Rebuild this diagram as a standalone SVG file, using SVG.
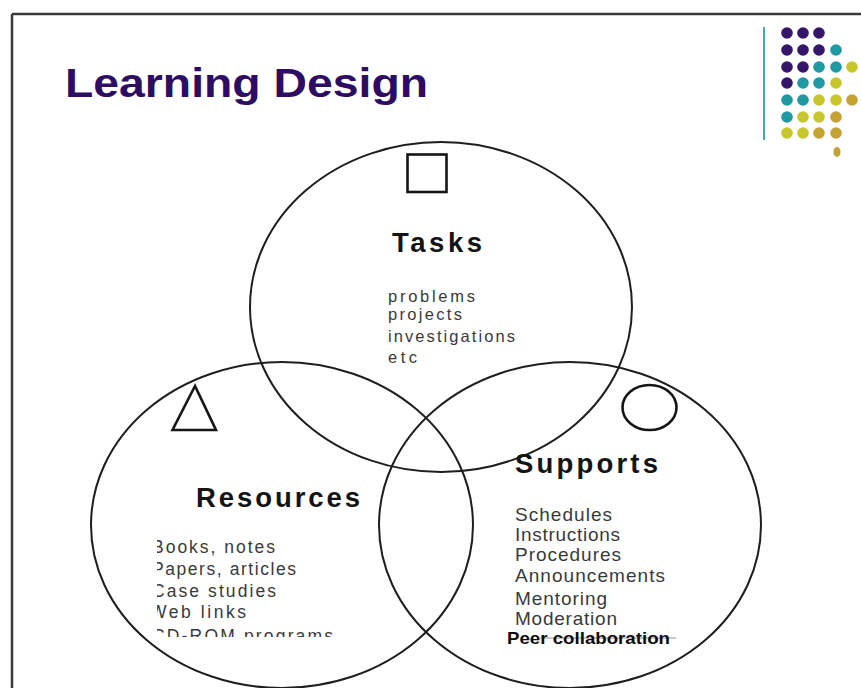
<svg xmlns="http://www.w3.org/2000/svg" width="861" height="688" viewBox="0 0 861 688">
  <defs>
    <style>
      .ring { fill: none; stroke: #1e1e1e; stroke-width: 2; }
      .sym { fill: none; stroke: #151515; stroke-width: 2.6; }
      .label { font-family: "Liberation Sans", Arial, sans-serif; font-weight: bold; font-size: 27.5px; fill: #141414; }
      .item { font-family: "Liberation Sans", Arial, sans-serif; font-size: 17.5px; fill: #3a3a3a; }
      .item-sm { font-family: "Liberation Sans", Arial, sans-serif; font-size: 16.5px; fill: #3a3a3a; }
      .item-lg { font-family: "Liberation Sans", Arial, sans-serif; font-size: 19px; fill: #3a3a3a; }
      .p { fill: #35166a; }
      .t { fill: #1f9aa2; }
      .y { fill: #c9c62c; }
      .g { fill: #c4a233; }
    </style>
    <clipPath id="resClip">
      <rect x="157" y="525" width="250" height="112"/>
    </clipPath>
  </defs>

  <rect x="0" y="0" width="861" height="688" fill="#ffffff"/>

  <!-- slide frame: top and left edges -->
  <g id="frame">
    <line x1="12" y1="14" x2="861" y2="14" stroke="#3a3a3a" stroke-width="2.5"/>
    <line x1="12" y1="14" x2="12" y2="688" stroke="#3a3a3a" stroke-width="2.5"/>
  </g>

  <!-- title -->
  <g id="title">
    <text x="65" y="97" font-family="'Liberation Sans', Arial, sans-serif" font-weight="bold" font-size="41" fill="#2d0c62" textLength="363" lengthAdjust="spacingAndGlyphs">Learning Design</text>
  </g>

  <!-- corner ornament: rule and dot grid -->
  <g id="ornament">
    <line x1="764" y1="27" x2="764" y2="140" stroke="#1f8f98" stroke-width="1.6"/>
    <circle class="p" cx="787" cy="33" r="5.8"/>
    <circle class="p" cx="803" cy="33" r="5.8"/>
    <circle class="p" cx="819" cy="33" r="5.8"/>

    <circle class="p" cx="787" cy="50" r="5.8"/>
    <circle class="p" cx="803" cy="50" r="5.8"/>
    <circle class="p" cx="819" cy="50" r="5.8"/>
    <circle class="t" cx="836" cy="50" r="5.8"/>

    <circle class="p" cx="787" cy="67" r="5.8"/>
    <circle class="p" cx="803" cy="67" r="5.8"/>
    <circle class="t" cx="819" cy="67" r="5.8"/>
    <circle class="t" cx="836" cy="67" r="5.8"/>
    <circle class="y" cx="852" cy="67" r="5.8"/>

    <circle class="p" cx="787" cy="83" r="5.8"/>
    <circle class="t" cx="803" cy="83" r="5.8"/>
    <circle class="t" cx="819" cy="83" r="5.8"/>
    <circle class="y" cx="836" cy="83" r="5.8"/>

    <circle class="t" cx="787" cy="100" r="5.8"/>
    <circle class="t" cx="803" cy="100" r="5.8"/>
    <circle class="y" cx="819" cy="100" r="5.8"/>
    <circle class="y" cx="836" cy="100" r="5.8"/>
    <circle class="g" cx="852" cy="100" r="5.8"/>

    <circle class="t" cx="787" cy="117" r="5.8"/>
    <circle class="y" cx="803" cy="117" r="5.8"/>
    <circle class="y" cx="819" cy="117" r="5.8"/>
    <circle class="g" cx="836" cy="117" r="5.8"/>

    <circle class="y" cx="787" cy="133" r="5.8"/>
    <circle class="y" cx="803" cy="133" r="5.8"/>
    <circle class="g" cx="819" cy="133" r="5.8"/>
    <circle class="g" cx="836" cy="133" r="5.8"/>

    <ellipse class="g" cx="837" cy="152" rx="3.5" ry="5"/>
  </g>

  <!-- Tasks set -->
  <g id="tasks">
    <ellipse class="ring" cx="441" cy="307" rx="191" ry="165"/>
    <rect class="sym" x="407.5" y="154.5" width="39" height="37.5"/>
    <text class="label" x="392" y="252" textLength="90">Tasks</text>
    <text class="item-sm" x="388" y="302" textLength="87">problems</text>
    <text class="item-sm" x="388" y="320" textLength="74">projects</text>
    <text class="item-sm" x="388" y="342" textLength="127">investigations</text>
    <text class="item-sm" x="388" y="363" textLength="29">etc</text>
  </g>

  <!-- Resources set -->
  <g id="resources">
    <ellipse class="ring" cx="282" cy="525" rx="191" ry="163"/>
    <polygon class="sym" points="195,386 172.5,430 216,430"/>
    <text class="label" x="196" y="507" textLength="164">Resources</text>
    <g clip-path="url(#resClip)">
      <text class="item" x="152" y="553" textLength="123">Books, notes</text>
      <text class="item" x="152" y="575" textLength="144">Papers, articles</text>
      <text class="item" x="152" y="597" textLength="124">Case studies</text>
      <text class="item" x="150" y="618" textLength="96">Web links</text>
      <text class="item" x="152" y="642" textLength="181">CD-ROM programs</text>
    </g>
  </g>

  <!-- Supports set -->
  <g id="supports">
    <ellipse class="ring" cx="570" cy="525" rx="191" ry="163"/>
    <ellipse class="sym" cx="649.5" cy="407.5" rx="27" ry="22.5" stroke-width="2.2"/>
    <text class="label" x="515" y="473" textLength="143">Supports</text>
    <text class="item-lg" x="515" y="521" textLength="97">Schedules</text>
    <text class="item-lg" x="515" y="541" textLength="105">Instructions</text>
    <text class="item-lg" x="515" y="561" textLength="106">Procedures</text>
    <text class="item-lg" x="515" y="582" textLength="150">Announcements</text>
    <text class="item-lg" x="515" y="605" textLength="92">Mentoring</text>
    <text class="item-lg" x="515" y="625" textLength="102">Moderation</text>
    <line x1="540" y1="638" x2="676" y2="638" stroke="#777" stroke-width="0.8"/>
    <text x="507" y="644" font-family="'Liberation Sans', Arial, sans-serif" font-weight="bold" font-size="16.5" fill="#0c0c0c" textLength="163" lengthAdjust="spacingAndGlyphs">Peer collaboration</text>
  </g>
</svg>
